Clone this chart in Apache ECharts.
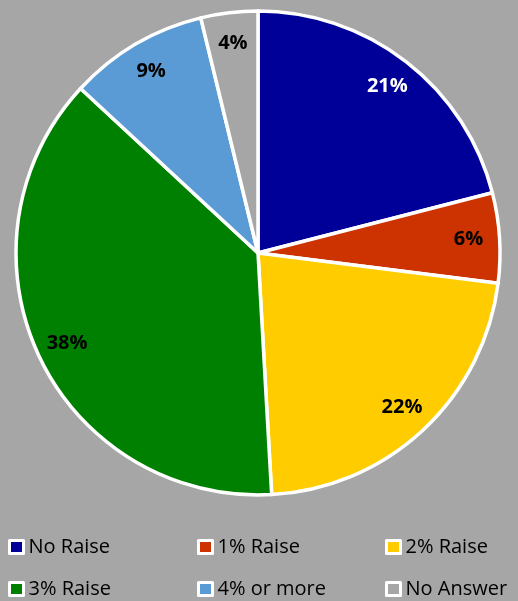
<!DOCTYPE html>
<html>
<head>
<meta charset="utf-8">
<script src="https://cdn.jsdelivr.net/npm/echarts@6/dist/echarts.min.js"></script>
<style>
html,body{margin:0;padding:0;background:#a6a6a6;}
#main{width:518px;height:601px;}
</style>
</head>
<body>
<div id="main"></div>
<script>
var categories = ['No Raise', '1% Raise', '2% Raise', '3% Raise', '4% or more', 'No Answer'];
var values = [21.0, 6.0, 22.1, 37.8, 9.3, 3.8];
var colors = ['#000099', '#cc3300', '#ffcc00', '#008000', '#5b9bd5', '#a6a6a6'];
var labelColors = ['#ffffff', '#000000', '#000000', '#000000', '#000000', '#000000'];

var data = categories.map(function (c, i) {
  return { name: c, value: values[i], itemStyle: { color: colors[i] } };
});
var labelData = categories.map(function (c, i) {
  return { name: c, value: values[i], label: { color: labelColors[i] } };
});

var chart = echarts.init(document.getElementById('main'));
var legendBase = {
  orient: 'horizontal',
  itemWidth: 14,
  itemHeight: 13,
  padding: 0,
  icon: 'rect',
  itemStyle: { borderColor: '#ffffff', borderWidth: 3 },
  textStyle: { fontFamily: 'Open Sans', fontSize: 20, color: '#000000', padding: [0, 0, 0, 0] },
  selectedMode: false
};
var colLeft = [8, 197, 385];
var rowTop = [537, 579];
var legends = categories.map(function (c, i) {
  return Object.assign({}, legendBase, {
    left: colLeft[i % 3],
    top: rowTop[Math.floor(i / 3)],
    data: [c]
  });
});
chart.setOption({
  backgroundColor: '#a6a6a6',
  animation: false,
  legend: legends,
  series: [
    {
      type: 'pie',
      center: [258, 253],
      radius: [0, 242],
      startAngle: 90,
      clockwise: true,
      label: { show: false },
      labelLine: { show: false },
      itemStyle: { borderColor: '#ffffff', borderWidth: 3.5 },
      emphasis: { disabled: true },
      data: data
    },
    {
      type: 'pie',
      center: [258, 253],
      radius: [174, 242],
      startAngle: 90,
      clockwise: true,
      silent: true,
      itemStyle: { color: 'rgba(0,0,0,0)', borderWidth: 0 },
      label: {
        show: true,
        position: 'inside',
        fontFamily: 'Open Sans',
        fontWeight: 'bold',
        fontSize: 20,
        formatter: function (p) { return Math.round(p.value) + '%'; }
      },
      labelLine: { show: false },
      emphasis: { disabled: true },
      legendHoverLink: false,
      data: labelData
    }
  ]
});
</script>
</body>
</html>
